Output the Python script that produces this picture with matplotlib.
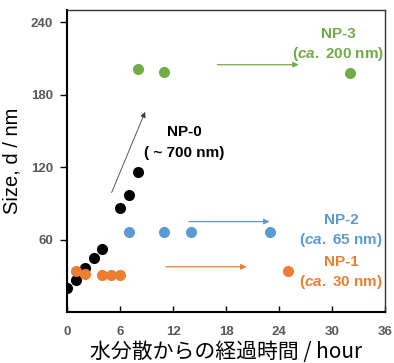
import matplotlib
matplotlib.use('Agg')
import matplotlib.pyplot as plt

plt.rcParams['font.family'] = ['Liberation Sans', 'DejaVu Sans']
plt.rcParams['mathtext.fontset'] = 'custom'
plt.rcParams['mathtext.rm'] = 'Liberation Sans:bold'
plt.rcParams['mathtext.it'] = 'Liberation Sans:italic:bold'

# data (time in hours, size in nm)
np0_t = [0, 1, 2, 3, 4, 6, 7, 8]
np0_d = [20, 27, 37, 45, 52, 86, 97, 116]
np1_t = [1, 2, 4, 5, 6, 25]
np1_d = [34, 32, 31, 31, 31, 34]
np2_t = [7, 11, 14, 23]
np2_d = [66, 66, 66.5, 66]
np3_t = [8, 11, 32]
np3_d = [201, 198.5, 198]

green = '#70AD47'
blue = '#5B9BD5'
orange = '#ED7D31'

fig = plt.figure(figsize=(3.94, 3.63), dpi=100)
ax = fig.add_axes([0.170, 0.1397, 0.808, 0.833])

ms = 64
ax.scatter(np0_t, np0_d, s=ms, color='black', zorder=3, linewidths=0)
ax.scatter(np1_t, np1_d, s=ms, color=orange, zorder=3, linewidths=0)
ax.scatter(np2_t, np2_d, s=ms, color=blue, zorder=3, linewidths=0)
ax.scatter(np3_t, np3_d, s=ms, color=green, zorder=3, linewidths=0)

# arrows
ax.annotate('', xy=(8.84, 165.7), xytext=(5.05, 99),
            arrowprops=dict(arrowstyle='-|>', color='#404040', lw=0.6,
                            mutation_scale=8, shrinkA=0, shrinkB=0))
for x0, x1, y, c in [(17.0, 26.2, 204.7, green), (13.8, 22.9, 75, blue),
                     (11.2, 20.3, 37.6, orange)]:
    ax.annotate('', xy=(x1, y), xytext=(x0, y),
                arrowprops=dict(arrowstyle='-|>', color=c, lw=0.9,
                                mutation_scale=8, shrinkA=0, shrinkB=0))

fs = 11
ax.text(13.3, 149, 'NP-0', color='black', fontsize=fs, fontweight='bold', ha='center', va='center')
ax.text(13.3, 131.6, '( ~ 700 nm)', color='black', fontsize=fs, fontweight='bold', ha='center', va='center')
ax.text(30.7, 229.7, 'NP-3', color=green, fontsize=fs, fontweight='bold', ha='center', va='center')
ax.text(30.7, 213.7, r'($\mathit{ca.}$ 200 nm)', color=green, fontsize=fs, fontweight='bold', ha='center', va='center')
ax.text(31.0, 75.9, 'NP-2', color=blue, fontsize=fs, fontweight='bold', ha='center', va='center')
ax.text(31.0, 59.9, r'($\mathit{ca.}$ 65 nm)', color=blue, fontsize=fs, fontweight='bold', ha='center', va='center')
ax.text(31.0, 41.9, 'NP-1', color=orange, fontsize=fs, fontweight='bold', ha='center', va='center')
ax.text(31.0, 25.4, r'($\mathit{ca.}$ 30 nm)', color=orange, fontsize=fs, fontweight='bold', ha='center', va='center')

ax.set_xlim(0, 36)
ax.set_ylim(0, 250)
ax.set_xticks([0, 6, 12, 18, 24, 30, 36])
ax.set_yticks([60, 120, 180, 240])
ax.tick_params(axis='x', direction='in', length=4, width=1, pad=10,
               labelsize=9.5, labelcolor='#595959', color='black')
ax.tick_params(axis='y', direction='out', length=5, width=1, pad=5,
               labelsize=9.5, labelcolor='#595959', color='black')
for lab in ax.get_xticklabels() + ax.get_yticklabels():
    lab.set_fontweight('bold')

for side in ['left', 'bottom']:
    ax.spines[side].set_linewidth(1.5)
for side in ['top', 'right']:
    ax.spines[side].set_linewidth(1.0)
    ax.spines[side].set_color('#333333')

ax.set_ylabel('Size, d / nm', fontsize=14.5, labelpad=7)
ax.set_xlabel('水分散からの経過時間 / hour', fontsize=15, labelpad=2,
              family=['Noto Sans CJK JP', 'DejaVu Sans'])

fig.savefig('out.png', dpi=100)
